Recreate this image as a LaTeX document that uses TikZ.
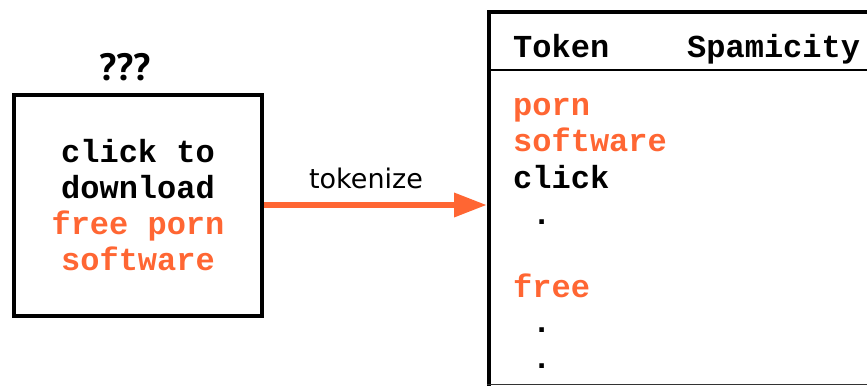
\documentclass[tikz,border=0pt]{standalone}
\usepackage{fontspec}
\usetikzlibrary{arrows.meta}
\newfontfamily\codefont{Liberation Mono}
\newfontfamily\labelfont{DejaVu Sans}
\newfontfamily\headfont{PT Sans}
\definecolor{spamorange}{RGB}{255,102,51}
\tikzset{
  x=1pt, y=-1pt,
  frame/.style={draw=black, line width=4pt},
  codetext/.style={font=\codefont\bfseries\fontsize{32}{36}\selectfont, inner sep=0pt},
  tokenrow/.style={codetext, anchor=base west},
  flow/.style={draw=spamorange, line width=6.5pt,
    -{Triangle[length=33pt,width=23pt]}},
}
\begin{document}
\begin{tikzpicture}
\useasboundingbox (0,0) rectangle (867,386);

% message box
\node[frame, minimum width=248pt, minimum height=221pt, inner sep=0pt] (msg) at (138,205.5) {};
\node[codetext, align=center, anchor=base] (body) at (138,270)
  {click to\\download\\\textcolor{spamorange}{free porn}\\\textcolor{spamorange}{software}};
\node[font=\headfont\bfseries\fontsize{38}{40}\selectfont, inner sep=0pt, anchor=base] (unk) at (125,80) {???};

% token table, running off the right edge
\coordinate (tl) at (489,12);
\coordinate (hl) at (489,70);
\draw[line width=4pt] (880,12) -- (tl) -- (489,386);
\draw[line width=2pt] (hl) -- (880,70);
\draw[line width=1.5pt, draw=black!80] (487,384.5) -- (880,384.5);
\coordinate (tin) at (487,205);

\node[tokenrow] (hTok) at (513,57) {Token};
\node[tokenrow] (hSpam) at (687,57) {Spamicity};
\node[tokenrow, text=spamorange] (t1) at (513,115) {porn};
\node[tokenrow, text=spamorange] (t2) at (513,151) {software};
\node[tokenrow] (t3) at (513,188) {click};
\node[tokenrow] (d1) at (532,224) {.};
\node[tokenrow, text=spamorange] (t4) at (513,297) {free};
\node[tokenrow] (d2) at (532,332) {.};
\node[tokenrow] (d3) at (532,368) {.};

% tokenize step
\draw[flow] (msg.east |- tin) -- (tin);
\node[font=\labelfont\fontsize{27}{29}\selectfont, inner sep=0pt, anchor=base] (tok) at (366,188) {tokenize};
\end{tikzpicture}
\end{document}
